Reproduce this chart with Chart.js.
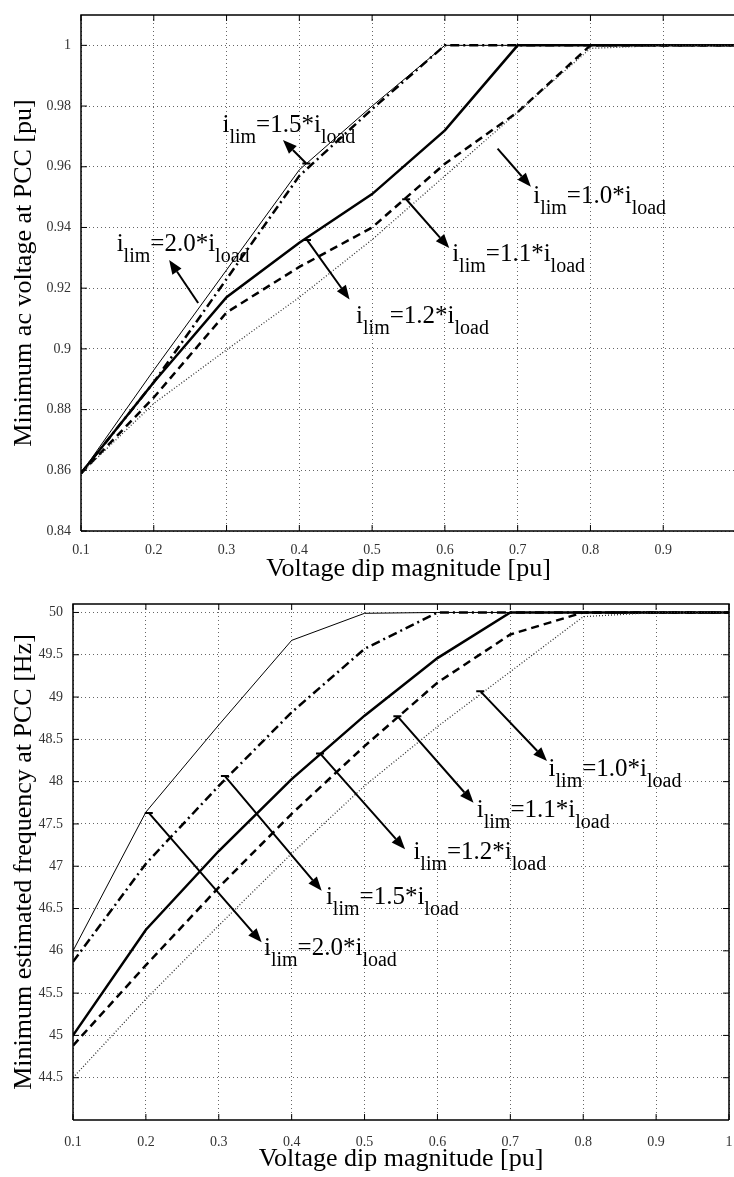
<!DOCTYPE html>
<html>
<head>
<meta charset="utf-8">
<script src="https://cdn.jsdelivr.net/npm/chart.js@4"></script>
<style>
  html, body { margin: 0; padding: 0; background: #fff; overflow: hidden; width: 734px; height: 1177px; }
  #topBox { position: absolute; left: 0; top: 0; }
  #botBox { position: absolute; left: 0; top: 590px; }
</style>
</head>
<body>
<div id="topBox"><canvas id="voltChart" width="740" height="590"></canvas></div>
<div id="botBox"><canvas id="freqChart" width="734" height="587"></canvas></div>
<script>
// voltage dip magnitude [pu] (x axis of both plots)
var dipMagnitude = [0.1, 0.2, 0.3, 0.4, 0.5, 0.6, 0.7, 0.8, 0.9, 1.0];
var limitFactors = ['1.0', '1.1', '1.2', '1.5', '2.0'];

// minimum ac voltage at PCC [pu]
var voltLim10 = [0.859, 0.882, 0.8997, 0.917, 0.936, 0.957, 0.978, 0.999, 1, 1];
var voltLim11 = [0.859, 0.884, 0.912, 0.927, 0.940, 0.961, 0.978, 1, 1, 1];
var voltLim12 = [0.859, 0.889, 0.917, 0.935, 0.951, 0.972, 1, 1, 1, 1];
var voltLim15 = [0.859, 0.889, 0.923, 0.957, 0.979, 1, 1, 1, 1, 1];
var voltLim20 = [0.859, 0.893, 0.926, 0.959, 0.980, 1, 1, 1, 1, 1];

// minimum estimated frequency at PCC [Hz]
var freqLim10 = [44.5, 45.43, 46.3, 47.15, 47.95, 48.65, 49.3, 49.95, 50, 50];
var freqLim11 = [44.88, 45.83, 46.75, 47.62, 48.42, 49.17, 49.74, 50, 50, 50];
var freqLim12 = [45.0, 46.25, 47.18, 48.03, 48.78, 49.46, 50, 50, 50, 50];
var freqLim15 = [45.87, 47.03, 47.95, 48.82, 49.57, 50, 50, 50, 50, 50];
var freqLim20 = [46.0, 47.64, 48.67, 49.67, 49.99, 50, 50, 50, 50, 50];

// tick values
var voltXTicks = [0.1, 0.2, 0.3, 0.4, 0.5, 0.6, 0.7, 0.8, 0.9];
var voltYTicks = [0.84, 0.86, 0.88, 0.9, 0.92, 0.94, 0.96, 0.98, 1];
var freqXTicks = [0.1, 0.2, 0.3, 0.4, 0.5, 0.6, 0.7, 0.8, 0.9, 1];
var freqYTicks = [44.5, 45, 45.5, 46, 46.5, 47, 47.5, 48, 48.5, 49, 49.5, 50];

var serif = '"Liberation Serif", "Times New Roman", serif';

// line look per current limit, same order as limitFactors
var lineStyles = [
  { width: 1.3, dash: [1, 2], color: '#333' },
  { width: 2.5, dash: [8, 5], color: '#000' },
  { width: 2.5, dash: [], color: '#000' },
  { width: 2.5, dash: [9, 4, 2, 4], color: '#000' },
  { width: 1, dash: [], color: '#000' }
];

// arrow labels, placed in data units: tail on the curve, head, text start (x, baseline)
var voltNotes = [
  { f: '1.5', tail: [0.4096, 0.9611], head: [0.3775, 0.9688], at: [0.2944, 0.9715], bar: true },
  { f: '2.0', tail: [0.261, 0.9151], head: [0.2211, 0.9293], at: [0.149, 0.9321], bar: false },
  { f: '1.2', tail: [0.4105, 0.9359], head: [0.469, 0.9163], at: [0.478, 0.9086], bar: true },
  { f: '1.1', tail: [0.5468, 0.9493], head: [0.606, 0.9332], at: [0.61, 0.9288], bar: true },
  { f: '1.0', tail: [0.6724, 0.966], head: [0.7182, 0.9534], at: [0.7214, 0.948], bar: false }
];
var freqNotes = [
  { f: '2.0', tail: [0.204, 47.63], head: [0.3588, 46.10], at: [0.362, 45.95], bar: true },
  { f: '1.5', tail: [0.3084, 48.066], head: [0.4412, 46.71], at: [0.447, 46.553], bar: true },
  { f: '1.2', tail: [0.4389, 48.334], head: [0.5556, 47.20], at: [0.567, 47.08], bar: true },
  { f: '1.1', tail: [0.545, 48.774], head: [0.6495, 47.75], at: [0.654, 47.587], bar: true },
  { f: '1.0', tail: [0.6587, 49.07], head: [0.7503, 48.243], at: [0.7525, 48.066], bar: true }
];

function makeSets(series) {
  return series.map(function (vals, k) {
    var st = lineStyles[k];
    return {
      label: 'i_lim=' + limitFactors[k] + '*i_load',
      data: dipMagnitude.map(function (x, i) { return { x: x, y: vals[i] }; }),
      borderColor: st.color,
      borderWidth: st.width,
      borderDash: st.dash,
      pointRadius: 0,
      tension: 0,
      fill: false
    };
  });
}

function fmt(v) { return String(Math.round(v * 1000) / 1000); }

// box round the plot with matlab style inward ticks
function framePlugin(rightSide) {
  return {
    id: 'frame',
    afterDraw: function (chart) {
      var a = chart.chartArea, ctx = chart.ctx;
      var sx = chart.scales.x, sy = chart.scales.y;
      ctx.save();
      ctx.strokeStyle = '#000';
      ctx.lineWidth = 1.5;
      ctx.beginPath();
      ctx.moveTo(a.left, a.bottom);
      ctx.lineTo(a.left, a.top);
      ctx.lineTo(a.right, a.top);
      if (rightSide) ctx.lineTo(a.right, a.bottom);
      ctx.moveTo(a.left, a.bottom);
      ctx.lineTo(a.right, a.bottom);
      ctx.stroke();
      ctx.lineWidth = 1;
      ctx.beginPath();
      sx.ticks.forEach(function (t) {
        var p = sx.getPixelForValue(t.value);
        ctx.moveTo(p, a.bottom); ctx.lineTo(p, a.bottom - 6);
        ctx.moveTo(p, a.top); ctx.lineTo(p, a.top + 6);
      });
      sy.ticks.forEach(function (t) {
        var p = sy.getPixelForValue(t.value);
        ctx.moveTo(a.left, p); ctx.lineTo(a.left + 6, p);
        if (rightSide) { ctx.moveTo(a.right, p); ctx.lineTo(a.right - 6, p); }
      });
      ctx.stroke();
      ctx.restore();
    }
  };
}

function drawLimText(ctx, x, y, f) {
  var main = '25px ' + serif, sub = '20px ' + serif;
  var parts = [['i', main, 0], ['lim', sub, 11], ['=' + f + '*i', main, 0], ['load', sub, 11]];
  ctx.textAlign = 'left';
  ctx.textBaseline = 'alphabetic';
  ctx.fillStyle = '#000';
  parts.forEach(function (p) {
    ctx.font = p[1];
    ctx.fillText(p[0], x, y + p[2]);
    x += ctx.measureText(p[0]).width;
  });
}

function notesPlugin(notes) {
  return {
    id: 'notes',
    afterDatasetsDraw: function (chart) {
      var ctx = chart.ctx, sx = chart.scales.x, sy = chart.scales.y;
      ctx.save();
      notes.forEach(function (n) {
        var tx = sx.getPixelForValue(n.tail[0]), ty = sy.getPixelForValue(n.tail[1]);
        var hx = sx.getPixelForValue(n.head[0]), hy = sy.getPixelForValue(n.head[1]);
        var ang = Math.atan2(hy - ty, hx - tx), c = Math.cos(ang), s = Math.sin(ang);
        var hl = 14, hw = 5.5;
        ctx.strokeStyle = '#000';
        ctx.fillStyle = '#000';
        ctx.lineWidth = 2;
        ctx.beginPath();
        ctx.moveTo(tx, ty);
        ctx.lineTo(hx - hl * c, hy - hl * s);
        if (n.bar) { ctx.moveTo(tx - 4, ty); ctx.lineTo(tx + 4, ty); }
        ctx.stroke();
        ctx.beginPath();
        ctx.moveTo(hx, hy);
        ctx.lineTo(hx - hl * c + hw * s, hy - hl * s - hw * c);
        ctx.lineTo(hx - hl * c - hw * s, hy - hl * s + hw * c);
        ctx.closePath();
        ctx.fill();
        drawLimText(ctx, sx.getPixelForValue(n.at[0]), sy.getPixelForValue(n.at[1]), n.f);
      });
      ctx.restore();
    }
  };
}

function axisX(ticks, min, max, h, tickPad, titlePad) {
  return {
    type: 'linear', min: min, max: max,
    afterBuildTicks: function (s) { s.ticks = ticks.map(function (v) { return { value: v }; }); },
    afterFit: function (s) { s.height = h; s.paddingLeft = 0; s.paddingRight = 0; },
    grid: { color: '#666', lineWidth: 1, drawTicks: false },
    border: { display: false, dash: [1, 3] },
    ticks: { padding: tickPad, color: '#333', font: { family: serif, size: 14 }, maxRotation: 0, autoSkip: false, callback: fmt },
    title: { display: true, text: 'Voltage dip magnitude [pu]', color: '#000', font: { family: serif, size: 26, lineHeight: 1 }, padding: { top: 0, bottom: titlePad } }
  };
}

function axisY(ticks, min, max, w, text) {
  return {
    min: min, max: max,
    afterBuildTicks: function (s) { s.ticks = ticks.map(function (v) { return { value: v }; }); },
    afterFit: function (s) { s.width = w; s.paddingTop = 0; s.paddingBottom = 0; },
    grid: { color: '#666', lineWidth: 1, drawTicks: false },
    border: { display: false, dash: [1, 3] },
    ticks: { padding: 10, color: '#333', font: { family: serif, size: 14 }, autoSkip: false, callback: fmt },
    title: { display: true, text: text, color: '#000', font: { family: serif, size: 26, lineHeight: 1 }, padding: { top: 11.5, bottom: 0 } }
  };
}

function baseOptions(pad, x, y) {
  return {
    responsive: false,
    animation: false,
    layout: { padding: pad },
    plugins: { legend: { display: false }, tooltip: { enabled: false } },
    scales: { x: x, y: y }
  };
}

new Chart(document.getElementById('voltChart'), {
  type: 'line',
  data: { datasets: makeSets([voltLim10, voltLim11, voltLim12, voltLim15, voltLim20]) },
  options: baseOptions({ top: 15, right: 4, left: 0, bottom: 0 },
    axisX(voltXTicks, 0.1, 1.0, 59, 11, 7.5),
    axisY(voltYTicks, 0.84, 1.01, 81, 'Minimum ac voltage at PCC [pu]')),
  plugins: [framePlugin(false), notesPlugin(voltNotes)]
});

new Chart(document.getElementById('freqChart'), {
  type: 'line',
  data: { datasets: makeSets([freqLim10, freqLim11, freqLim12, freqLim15, freqLim20]) },
  options: baseOptions({ top: 14, right: 5, left: 0, bottom: 0 },
    axisX(freqXTicks, 0.1, 1.0, 57, 14, 5.2),
    axisY(freqYTicks, 44.0, 50.1, 73, 'Minimum estimated frequency at PCC [Hz]')),
  plugins: [framePlugin(true), notesPlugin(freqNotes)]
});
</script>
</body>
</html>
